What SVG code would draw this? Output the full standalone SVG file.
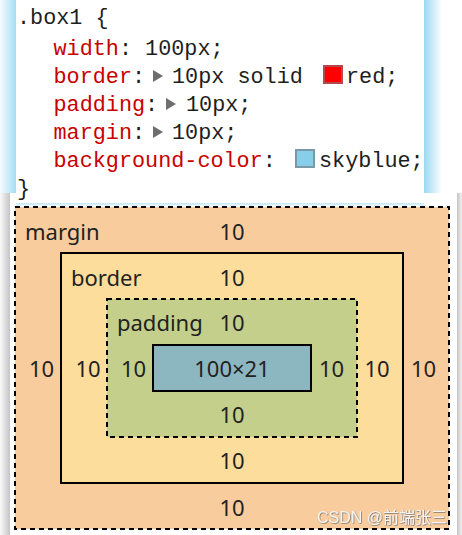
<svg xmlns="http://www.w3.org/2000/svg" width="462" height="535" viewBox="0 0 462 535">
<defs>
<style>
.code{font-family:"Liberation Mono","DejaVu Sans Mono",monospace;font-size:21.8px;fill:#1e1e1e}
.prop{fill:#c80000}
.tri{fill:#6e6e6e}
.lbl{font-family:"Noto Sans","Open Sans",sans-serif;font-size:22px;fill:#222}
.num{font-family:"Noto Sans","Open Sans",sans-serif;font-size:22px;fill:#222;text-anchor:middle}
.box{stroke:#000;stroke-width:2}
.dash{stroke-dasharray:5 4}
</style>
<linearGradient id="gl" x1="0" y1="0" x2="1" y2="0"><stop offset="0" stop-color="#f4fbfe"/><stop offset="1" stop-color="#a6def4"/></linearGradient>
<linearGradient id="gr" x1="0" y1="0" x2="1" y2="0"><stop offset="0" stop-color="#9ad9f3"/><stop offset="1" stop-color="#ffffff"/></linearGradient>
<linearGradient id="sl" x1="0" y1="0" x2="1" y2="0"><stop offset="0" stop-color="#fafafa"/><stop offset="1" stop-color="#c4c4c4"/></linearGradient>
<linearGradient id="sr" x1="0" y1="0" x2="1" y2="0"><stop offset="0" stop-color="#c4c4c4"/><stop offset="1" stop-color="#f2f2f2"/></linearGradient>
<linearGradient id="gb" x1="0" y1="0" x2="0" y2="1"><stop offset="0" stop-color="#bfe8f8"/><stop offset="1" stop-color="#bfe8f8" stop-opacity="0"/></linearGradient>
<filter id="wm" x="-5%" y="-20%" width="110%" height="140%"><feDropShadow dx="0.6" dy="0.6" stdDeviation="0.4" flood-color="#555" flood-opacity="0.9"/></filter>
</defs>
<rect x="0" y="0" width="462" height="535" fill="#ffffff"/>

<!-- bottom panel -->
<g id="bottom-panel">
<rect x="0" y="193" width="10" height="342" fill="url(#sl)"/>
<rect x="457" y="193" width="5" height="342" fill="url(#sr)"/>
<rect x="10" y="193" width="447" height="342" fill="#ffffff"/>
</g>

<!-- top panel -->
<g id="code-panel">
<rect x="0" y="0" width="16" height="193" fill="url(#gl)"/>
<rect x="424" y="0" width="18" height="193" fill="url(#gr)"/>
<rect x="16" y="203" width="408" height="4" fill="url(#gb)"/>
<rect x="16" y="0" width="408" height="203" fill="#ffffff"/>
<text class="code" x="17" y="24">.box1 {</text>
<text class="code" x="53.5" y="55"><tspan class="prop">width</tspan>: 100px;</text>
<text class="code" x="53.5" y="83"><tspan class="prop">border</tspan>:</text>
<polygon class="tri" points="153,70 163,76 153,82"/>
<text class="code" x="172" y="83">10px solid</text>
<rect x="324" y="66" width="18" height="17" fill="#ff0000" stroke="#b5484a" stroke-width="2"/>
<text class="code" x="346" y="83">red;</text>
<text class="code" x="53.5" y="111"><tspan class="prop">padding</tspan>:</text>
<polygon class="tri" points="166,98 176,104 166,110"/>
<text class="code" x="186" y="111">10px;</text>
<text class="code" x="53.5" y="139"><tspan class="prop">margin</tspan>:</text>
<polygon class="tri" points="153,126 163,132 153,138"/>
<text class="code" x="172" y="139">10px;</text>
<text class="code" x="53.5" y="167"><tspan class="prop">background-color</tspan>:</text>
<rect x="296" y="150" width="18" height="17" fill="#87ceeb" stroke="#7b9aa8" stroke-width="2"/>
<text class="code" x="319" y="167">skyblue;</text>
<text class="code" x="17" y="195">}</text>
</g>

<!-- box model -->
<g id="margin-box">
<rect class="box dash" x="15" y="207" width="434" height="322" fill="#f9cc9d"/>
<text class="lbl" x="25" y="240">margin</text>
<text class="num" x="232" y="240">10</text>
<text class="num" x="41.5" y="377">10</text>
<text class="num" x="423.5" y="377">10</text>
<text class="num" x="232" y="516">10</text>
</g>
<g id="border-box">
<rect class="box" x="61" y="253" width="342" height="230" fill="#fddd9b"/>
<text class="lbl" x="71" y="286">border</text>
<text class="num" x="232" y="286">10</text>
<text class="num" x="88" y="377">10</text>
<text class="num" x="377" y="377">10</text>
<text class="num" x="232" y="469">10</text>
</g>
<g id="padding-box">
<rect class="box dash" x="107" y="299" width="250" height="138" fill="#c3cf8a"/>
<text class="lbl" x="117" y="331">padding</text>
<text class="num" x="232" y="331">10</text>
<text class="num" x="133.5" y="377">10</text>
<text class="num" x="331.5" y="377">10</text>
<text class="num" x="232" y="423">10</text>
</g>
<g id="content-box">
<rect class="box" x="153" y="345" width="158" height="46" fill="#8cb6c0"/>
<text class="num" x="232" y="377">100×21</text>
</g>

<text x="447" y="523" text-anchor="end" font-family="'Liberation Sans','Noto Sans CJK SC',sans-serif" font-size="16" fill="#f4f4f4" filter="url(#wm)">CSDN @前端张三</text>
</svg>
